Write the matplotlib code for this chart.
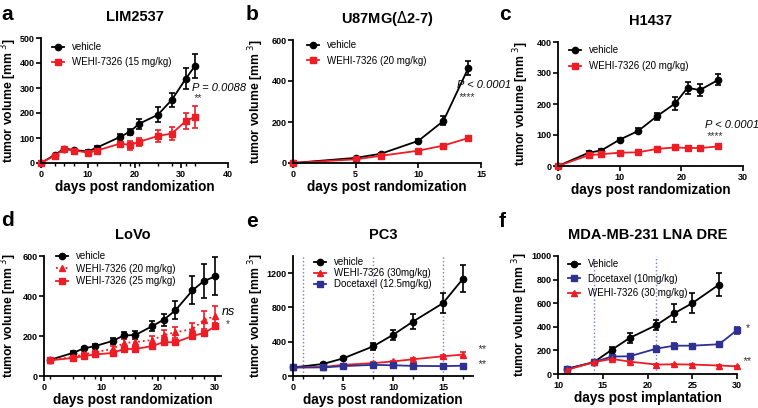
import matplotlib
matplotlib.use("Agg")
import matplotlib.pyplot as plt
import numpy as np

plt.rcParams['font.family'] = ['Liberation Sans', 'DejaVu Sans']

BLACK = '#000000'
RED = '#ee1c25'
BLUE = '#2e3192'
W, H = 758, 408

# ---- panel a: LIM2537
a_days = [0, 3, 5, 7, 10, 12, 17, 19, 21, 25, 28, 31, 33]
a_veh = [0, 33, 58, 52, 46, 62, 105, 125, 157, 193, 253, 338, 390]
a_veh_err = [0, 5, 5, 5, 5, 5, 10, 12, 20, 30, 28, 42, 48]
a_wehi = [0, 30, 55, 50, 42, 50, 78, 72, 85, 108, 118, 168, 185]
a_wehi_err = [0, 5, 5, 5, 8, 8, 12, 18, 15, 25, 25, 32, 45]

# ---- panel b: U87MG
b_days = [0, 5, 7, 10, 12, 14]
b_veh = [0, 25, 45, 108, 205, 465]
b_veh_err = [0, 5, 5, 10, 22, 35]
b_wehi = [0, 18, 35, 60, 85, 122]
b_wehi_err = [0, 3, 3, 5, 5, 12]

# ---- panel c: H1437
c_days = [0, 5, 7, 10, 13, 16, 19, 21, 23, 26]
c_veh = [0, 43, 50, 85, 113, 160, 202, 252, 245, 278]
c_veh_err = [0, 4, 4, 4, 8, 12, 20, 20, 20, 18]
c_wehi = [0, 35, 38, 43, 44, 55, 60, 58, 58, 63]
c_wehi_err = [0, 3, 3, 3, 3, 3, 3, 3, 3, 3]

# ---- panel d: LoVo
d_days = [1, 5, 7, 9, 12, 14, 16, 19, 21, 23, 26, 28, 30]
d_veh = [80, 115, 138, 150, 175, 203, 205, 250, 282, 328, 428, 475, 498]
d_veh_err = [5, 8, 8, 12, 15, 18, 18, 25, 30, 45, 70, 85, 95]
d_w20 = [80, 95, 108, 120, 135, 165, 170, 180, 205, 218, 235, 280, 300]
d_w20_err = [5, 8, 10, 12, 15, 18, 18, 20, 25, 28, 30, 45, 50]
d_w25 = [78, 90, 100, 108, 115, 135, 135, 150, 170, 168, 200, 215, 248]
d_w25_err = [5, 8, 8, 10, 10, 10, 8, 12, 10, 8, 10, 10, 15]

# ---- panel e: PC3
e_days = [0, 3, 5, 8, 10, 12, 15, 17]
e_veh = [100, 140, 205, 345, 480, 635, 850, 1135]
e_veh_err = [10, 15, 15, 45, 55, 85, 115, 160]
e_wehi = [100, 105, 130, 150, 170, 195, 230, 250]
e_wehi_err = [5, 8, 8, 8, 10, 10, 15, 25]
e_doc = [100, 100, 115, 130, 125, 118, 115, 120]
e_doc_err = [5, 5, 5, 5, 5, 5, 5, 10]
e_dose_days = [1, 8, 15]

# ---- panel f: MDA-MB-231 LNA DRE
f_days_veh = [11, 14, 16, 18, 21, 23, 25, 28]
f_veh = [45, 100, 205, 305, 415, 515, 600, 758]
f_veh_err = [5, 10, 25, 45, 45, 75, 85, 100]
f_days = [11, 14, 16, 18, 21, 23, 25, 28, 30]
f_doc = [40, 100, 148, 150, 215, 240, 240, 252, 372]
f_doc_err = [5, 10, 15, 20, 25, 20, 15, 20, 30]
f_wehi = [35, 100, 128, 105, 80, 82, 80, 72, 65]
f_wehi_err = [3, 8, 8, 8, 5, 5, 5, 5, 5]
f_dose_days = [14, 21]

fig = plt.figure(figsize=(W / 100, H / 100), dpi=100)


def mk_ax(l, r, b, t):
    # l, r in x-pixels; b, t in y-pixels from top
    ax = fig.add_axes([l / W, 1 - b / H, (r - l) / W, (b - t) / H])
    ax._px = (r - l, b - t)
    for s in ['top', 'right']:
        ax.spines[s].set_visible(False)
    for s in ['left', 'bottom']:
        ax.spines[s].set_linewidth(1.3)
    ax.tick_params(direction='out', width=1.2, length=3.5, labelsize=6.5, pad=1.2)
    ax.tick_params(which='minor', direction='out', width=1.0, length=2.5)
    return ax


def style(ax, title, letter, xlabel, letter_px, ylab_off):
    ax.set_title(title, fontsize=10.5, fontweight='bold', pad=12)
    ax.set_xlabel(xlabel, fontsize=9.8, fontweight='bold', labelpad=1)
    ax.set_ylabel('tumor volume [mm $^{3}$]', fontsize=8.8, fontweight='bold')
    ax.yaxis.set_label_coords(-ylab_off / ax._px[0], 0.5)
    fig.text(letter_px[0] / W, 1 - letter_px[1] / H, letter, fontsize=15,
             fontweight='bold', ha='left', va='center')
    for lab in ax.get_xticklabels() + ax.get_yticklabels():
        lab.set_fontweight('bold')


def series(ax, x, y, e, color, marker, label, ls='-', ms=4.5):
    c = ax.errorbar(x, y, yerr=e, color=color, marker=marker, ms=ms, lw=1.3, ls=ls,
                    capsize=2.5, elinewidth=1.2, capthick=1.2, clip_on=False)
    c[0].set_label(label)
    return c[0]


def leg(ax, handles, mx, my, spacing_px):
    # mx, my: offset (px) of first legend marker from the axes top-left corner
    fs = 7
    hl = 1.2
    hl_px = hl * fs * 100 / 72
    row_px = fs * 100 / 72 * 1.15
    ls = max((spacing_px - row_px) / (fs * 100 / 72), 0.0)
    x0 = (mx - hl_px / 2) / ax._px[0]
    y0 = 1 - (my - row_px / 2) / ax._px[1]
    ax.legend(handles=handles, labels=[h.get_label() for h in handles],
              frameon=False, fontsize=fs, loc='upper left',
              bbox_to_anchor=(x0, y0), handlelength=hl, handletextpad=0.8,
              labelspacing=ls, borderaxespad=0, borderpad=0)


# a
ax = mk_ax(41, 228, 163, 38)
h1 = series(ax, a_days, a_veh, a_veh_err, BLACK, 'o', 'vehicle')
h2 = series(ax, a_days, a_wehi, a_wehi_err, RED, 's', 'WEHI-7326 (15 mg/kg)')
ax.set_xlim(0, 40); ax.set_ylim(0, 500)
ax.set_xticks([0, 10, 20, 30, 40]); ax.set_yticks([0, 100, 200, 300, 400, 500])
ax.set_xticks(a_days, minor=True)
ax.text(32.3, 300, 'P = 0.0088', fontsize=8, style='italic', va='center')
ax.text(33.4, 260, '**', fontsize=7.5, style='italic', ha='center', va='center', color='#333333')
style(ax, 'LIM2537', 'a', 'days post randomization', (1, 14), 22)
leg(ax, [h1, h2], 17, 10, 16)

# b
ax = mk_ax(293, 481, 163, 40)
h1 = series(ax, b_days, b_veh, b_veh_err, BLACK, 'o', 'vehicle')
h2 = series(ax, b_days, b_wehi, b_wehi_err, RED, 's', 'WEHI-7326 (20 mg/kg)')
ax.set_xlim(0, 15); ax.set_ylim(0, 600)
ax.set_xticks([0, 5, 10, 15]); ax.set_yticks([0, 200, 400, 600])
ax.text(13.1, 382, 'P < 0.0001', fontsize=8, style='italic', va='center', clip_on=False)
ax.text(13.8, 320, '****', fontsize=7.5, style='italic', ha='center', va='center', color='#333333')
style(ax, 'U87MG($\\Delta$2-7)', 'b', 'days post randomization', (246, 14), 27)
leg(ax, [h1, h2], 20, 6, 16.5)

# c
ax = mk_ax(558, 743, 166, 42)
h1 = series(ax, c_days, c_veh, c_veh_err, BLACK, 'o', 'vehicle')
h2 = series(ax, c_days, c_wehi, c_wehi_err, RED, 's', 'WEHI-7326 (20 mg/kg)')
ax.set_xlim(0, 30); ax.set_ylim(0, 400)
ax.set_xticks([0, 10, 20, 30]); ax.set_yticks([0, 100, 200, 300, 400])
ax.text(23.9, 133, 'P < 0.0001', fontsize=8, style='italic', va='center', clip_on=False)
ax.text(25.4, 95, '****', fontsize=7.5, style='italic', ha='center', va='center', color='#333333')
style(ax, 'H1437', 'c', 'days post randomization', (499, 14), 27)
leg(ax, [h1, h2], 17, 9, 17)

# d
ax = mk_ax(44, 221, 376, 256)
h1 = series(ax, d_days, d_veh, d_veh_err, BLACK, 'o', 'vehicle')
h2 = series(ax, d_days, d_w20, d_w20_err, RED, '^', 'WEHI-7326 (20 mg/kg)', ls=':')
h3 = series(ax, d_days, d_w25, d_w25_err, RED, 's', 'WEHI-7326 (25 mg/kg)')
ax.set_xlim(0, 31); ax.set_ylim(0, 600)
ax.set_xticks([0, 10, 20, 30]); ax.set_yticks([0, 200, 400, 600])
ax.set_xticks(d_days, minor=True)
ax.text(31.2, 318, 'ns', fontsize=9, style='italic', va='center', clip_on=False)
ax.text(32.2, 262, '*', fontsize=7, ha='center', va='center', color='#333333')
style(ax, 'LoVo', 'd', 'days post randomization', (1, 221), 24.5)
leg(ax, [h1, h2, h3], 18, 1, 13.5)

# e
ax = mk_ax(293, 473, 376, 256)
for dd in e_dose_days:
    ax.axvline(dd, color='#7b7bd6', ls=':', lw=1.0, zorder=0)
h1 = series(ax, e_days, e_veh, e_veh_err, BLACK, 'o', 'vehicle')
h2 = series(ax, e_days, e_wehi, e_wehi_err, RED, '^', 'WEHI-7326 (30mg/kg)')
h3 = series(ax, e_days, e_doc, e_doc_err, BLUE, 's', 'Docetaxel (12.5mg/kg)')
ax.set_xlim(0, 18); ax.set_ylim(0, 1400)
ax.set_xticks([0, 5, 10, 15]); ax.set_yticks([0, 400, 800, 1200])
ax.set_xticks([1, 3, 8, 12, 17], minor=True)
ax.text(18.4, 311, '**', fontsize=8, ha='left', va='center', color='#333333', style='italic', clip_on=False)
ax.text(18.4, 136, '**', fontsize=8, ha='left', va='center', color='#333333', style='italic', clip_on=False)
style(ax, 'PC3', 'e', 'days post randomization', (246, 222), 27)
leg(ax, [h1, h2, h3], 27, 7, 12)

# f
ax = mk_ax(558, 737, 374, 256)
for dd in f_dose_days:
    ax.axvline(dd, color='#7b7bd6', ls=':', lw=1.0, zorder=0)
h1 = series(ax, f_days_veh, f_veh, f_veh_err, BLACK, 'o', 'Vehicle')
h2 = series(ax, f_days, f_doc, f_doc_err, BLUE, 's', 'Docetaxel (10mg/kg)')
h3 = series(ax, f_days, f_wehi, f_wehi_err, RED, '^', 'WEHI-7326 (30 mg/kg)')
ax.set_xlim(10, 30); ax.set_ylim(0, 1000)
ax.set_xticks([10, 15, 20, 25, 30]); ax.set_yticks([0, 200, 400, 600, 800, 1000])
ax.text(31.2, 391, '*', fontsize=7.5, ha='center', va='center', color='#333333', clip_on=False)
ax.text(30.6, 113, '**', fontsize=8, ha='left', va='center', color='#333333', style='italic', clip_on=False)
style(ax, 'MDA-MB-231 LNA DRE', 'f', 'days post implantation', (499, 222), 28)
leg(ax, [h1, h2, h3], 16, 9, 15.5)

fig.savefig('out.png', dpi=100)
